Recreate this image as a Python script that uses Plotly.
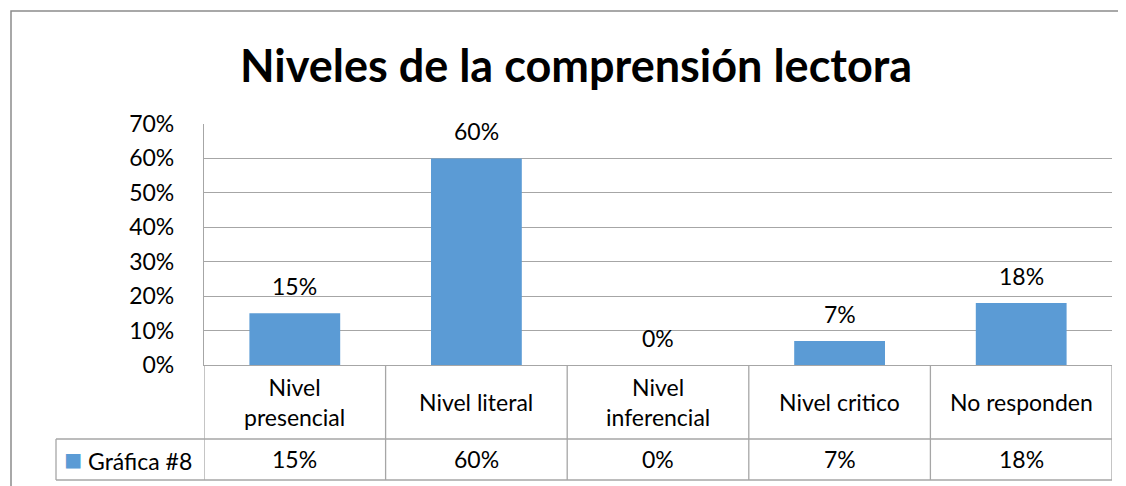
import plotly.graph_objects as go

# --- data ---
categories = ["Nivel presencial", "Nivel literal", "Nivel inferencial", "Nivel critico", "No responden"]
cat_labels = ["Nivel<br>presencial", "Nivel literal", "Nivel<br>inferencial", "Nivel critico", "No responden"]
values = [0.15, 0.60, 0.0, 0.07, 0.18]
series_name = "Gráfica #8"

# page body has an 8px margin, so the figure is shifted by that much in the window
OFF = 8
W, H = 1126 - 2 * OFF, 486 - OFF
BAR = "#5B9BD5"
GRID = "#A6A6A6"
FONT = "Lato"


# window pixel -> paper coordinate
def px(x):
    return (x - OFF) / W


def py(y):
    return 1 - (y - OFF) / H


fig = go.Figure(
    go.Bar(
        x=categories,
        y=values,
        name=series_name,
        marker=dict(color=BAR, line=dict(width=0)),
        showlegend=False,
    )
)

anns = []
# data labels above bars
for c, v in zip(categories, values):
    anns.append(dict(x=c, y=v, xref="x", yref="y", text=f"{v:.0%}", showarrow=False,
                     yanchor="middle", yshift=27, font=dict(size=23, color="#000")))
# category row of the data table
for c, lab in zip(categories, cat_labels):
    anns.append(dict(x=c, y=py(402), xref="x", yref="paper", text=lab, showarrow=False,
                     yanchor="middle", font=dict(size=23, color="#000")))
# value row of the data table
for c, v in zip(categories, values):
    anns.append(dict(x=c, y=py(459), xref="x", yref="paper", text=f"{v:.0%}", showarrow=False,
                     yanchor="middle", font=dict(size=23, color="#000")))
# legend key cell
anns.append(dict(x=px(62), y=py(458), xref="paper", yref="paper", xanchor="left", yanchor="middle",
                 text=f"<span style='color:{BAR};font-size:30px'>■</span> {series_name}", showarrow=False,
                 font=dict(size=23, color="#000")))

line = dict(color=GRID, width=1.3)
shapes = [
    # chart area border
    dict(type="rect", xref="paper", yref="paper", x0=px(11), x1=px(1150), y0=py(520), y1=py(11),
         line=dict(color="#8C8C8C", width=1.5)),
    # table horizontal lines
    dict(type="line", xref="paper", yref="paper", x0=px(56), x1=px(1112), y0=py(439), y1=py(439), line=line),
    dict(type="line", xref="paper", yref="paper", x0=px(56), x1=px(1112), y0=py(480), y1=py(480), line=line),
    dict(type="line", xref="paper", yref="paper", x0=px(56), x1=px(56), y0=py(439), y1=py(480), line=line),
]
for i in range(len(categories) + 1):
    shapes.append(dict(type="line", xref="x", yref="paper", x0=i - 0.5, x1=i - 0.5,
                       y0=py(365), y1=py(480), line=line))

fig.update_layout(
    width=W,
    height=H,
    margin=dict(l=0, r=0, t=0, b=0, autoexpand=False),
    paper_bgcolor="white",
    plot_bgcolor="white",
    font=dict(family=FONT, size=23, color="#000"),
    title=dict(text="<b>Niveles de la comprensión lectora</b>", x=px(576), xanchor="center",
               y=py(66), yanchor="middle", font=dict(family=FONT, size=45, color="#000")),
    bargap=0.5,
    xaxis=dict(domain=[px(204), px(1112)], type="category", range=[-0.5, 4.5], automargin=False,
               showticklabels=False, showgrid=False, zeroline=False,
               showline=True, linecolor=GRID, linewidth=1.3, ticks=""),
    yaxis=dict(domain=[py(365), py(124)], range=[0, 0.7], dtick=0.1, tickformat=".0%",
               automargin=False, showgrid=True, gridcolor=GRID, gridwidth=1.3, zeroline=False,
               showline=True, linecolor=GRID, linewidth=1.3, ticks="",
               ticklabelstandoff=24, tickfont=dict(size=23, color="#000")),
    annotations=anns,
    shapes=shapes,
)

fig.write_html("out.html")
